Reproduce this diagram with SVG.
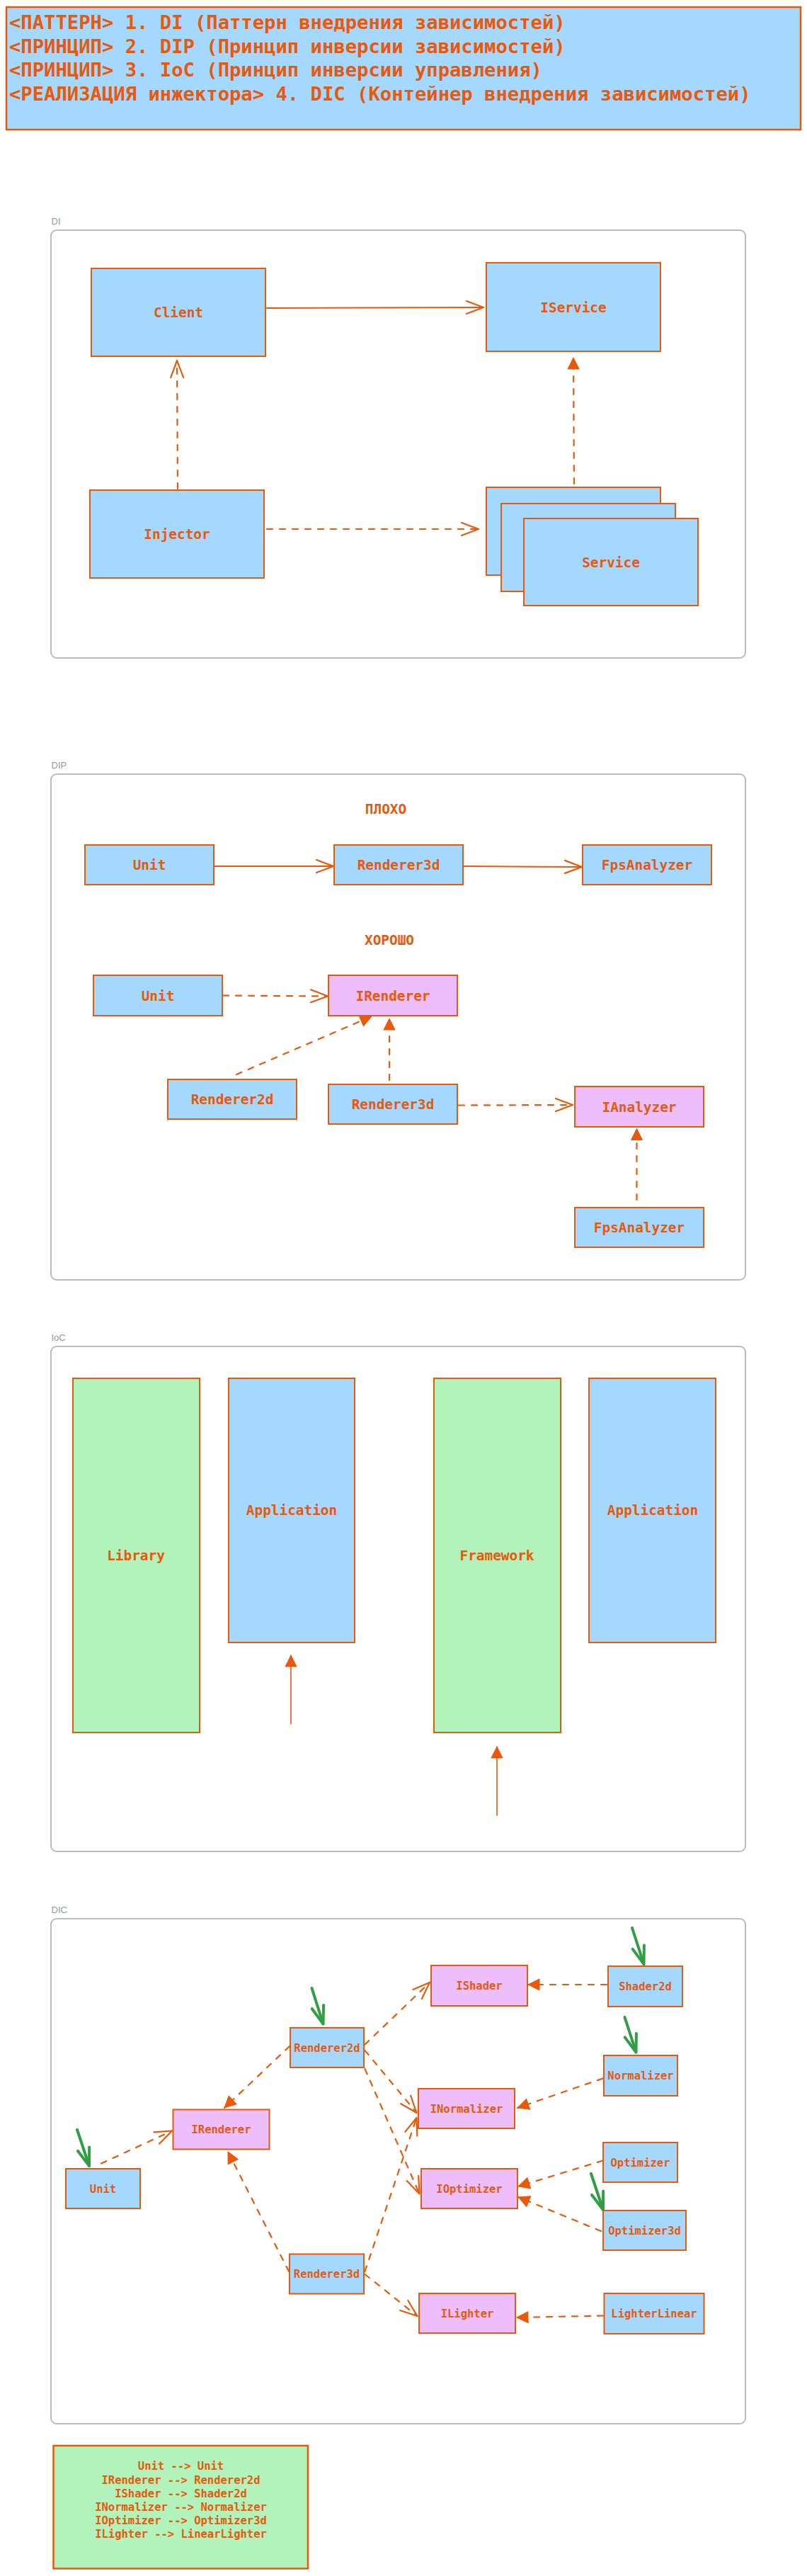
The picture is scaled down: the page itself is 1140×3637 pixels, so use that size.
<svg xmlns="http://www.w3.org/2000/svg" width="1140" height="3637" viewBox="0 0 1140 3637">
<style>
.bg{fill:#ffffff}
.blue{fill:#a5d8ff;stroke:#e8590c;stroke-width:2}
.pink{fill:#eebefa;stroke:#e8590c;stroke-width:2}
.green{fill:#b2f2bb;stroke:#e8590c;stroke-width:2}
.frame{fill:none;stroke:#bbbbbb;stroke-width:2}
.flabel{font-family:"Liberation Sans",Arial,sans-serif;font-size:13px;fill:#999999}
.t{font-family:"DejaVu Sans Mono","Liberation Mono",monospace;fill:#e8590c;text-anchor:middle;font-weight:bold}
.t20{font-size:19.4px}
.t16{font-size:15.5px}
.title{font-family:"DejaVu Sans Mono","Liberation Mono",monospace;fill:#e8590c;font-size:27.2px;font-weight:bold}
.solid{fill:none;stroke:#e8590c;stroke-width:2;stroke-linecap:round}
.thin{fill:none;stroke:#e8590c;stroke-width:1.6;stroke-linecap:round}
.dash{fill:none;stroke:#e8590c;stroke-width:2.2;stroke-dasharray:8 10;stroke-linecap:round}
.garrow{fill:none;stroke:#2f9e44;stroke-width:4;stroke-linecap:round}
</style>
<defs>
<marker id="open" markerUnits="userSpaceOnUse" markerWidth="30" markerHeight="26" refX="24" refY="12" orient="auto" overflow="visible">
<path d="M0,3 L24,12 L0,21" fill="none" stroke="#e8590c" stroke-width="2.2" stroke-linecap="round" stroke-linejoin="round"/>
</marker>
<marker id="tri" markerUnits="userSpaceOnUse" markerWidth="20" markerHeight="20" refX="16" refY="8" orient="auto" overflow="visible">
<path d="M0,0 L16,8 L0,16 Z" fill="#e8590c" stroke="#e8590c" stroke-width="1" stroke-linejoin="round"/>
</marker>
<marker id="gopen" markerUnits="userSpaceOnUse" markerWidth="30" markerHeight="26" refX="25" refY="12" orient="auto" overflow="visible">
<path d="M0,3.5 L25,12 L0,20.5" fill="none" stroke="#2f9e44" stroke-width="4" stroke-linecap="round" stroke-linejoin="round"/>
</marker>
</defs>
<rect class="bg" x="0" y="0" width="1140" height="3637"/>

<g id="title">
<rect x="9" y="10" width="1122" height="173" fill="#a5d8ff" stroke="#e8590c" stroke-width="2.5"/>
<text class="title" x="13" y="41">&lt;ПАТТЕРН&gt; 1. DI (Паттерн внедрения зависимостей)</text>
<text class="title" x="13" y="74.6">&lt;ПРИНЦИП&gt; 2. DIP (Принцип инверсии зависимостей)</text>
<text class="title" x="13" y="108.2">&lt;ПРИНЦИП&gt; 3. IoC (Принцип инверсии управления)</text>
<text class="title" x="13" y="141.8">&lt;РЕАЛИЗАЦИЯ инжектора&gt; 4. DIC (Контейнер внедрения зависимостей)</text>
</g>

<!-- ================= DI ================= -->
<g id="frame-di">
<text class="flabel" x="72.5" y="316.5">DI</text>
<rect class="frame" x="72" y="325" width="981" height="604" rx="8"/>
</g>
<g id="di-client"><rect class="blue" x="129" y="379" width="246" height="124"/><text class="t t20" x="252" y="448">Client</text></g>
<g id="di-iservice"><rect class="blue" x="687" y="371" width="246" height="125"/><text class="t t20" x="810" y="440.5">IService</text></g>
<g id="di-injector"><rect class="blue" x="127" y="692" width="246" height="124"/><text class="t t20" x="250" y="761">Injector</text></g>
<g id="di-service">
<rect class="blue" x="687" y="688" width="246" height="124"/>
<rect class="blue" x="708" y="711" width="246" height="124"/>
<rect class="blue" x="740" y="732" width="246" height="123"/>
<text class="t t20" x="863" y="800.5">Service</text>
</g>

<!-- ================= DIP ================= -->
<g id="frame-dip">
<text class="flabel" x="72.5" y="1084.5">DIP</text>
<rect class="frame" x="72" y="1093" width="981" height="714" rx="8"/>
</g>
<g id="dip-bad-label"><text class="t t20" x="545" y="1148.5">ПЛОХО</text></g>
<g id="dip-good-label"><text class="t t20" x="550" y="1334">ХОРОШО</text></g>
<g id="dip-unit1"><rect class="blue" x="120" y="1193" width="182" height="56"/><text class="t t20" x="211" y="1228">Unit</text></g>
<g id="dip-renderer3d1"><rect class="blue" x="472" y="1193" width="182" height="56"/><text class="t t20" x="563" y="1228">Renderer3d</text></g>
<g id="dip-fps1"><rect class="blue" x="823" y="1193" width="182" height="56"/><text class="t t20" x="914" y="1228">FpsAnalyzer</text></g>
<g id="dip-unit2"><rect class="blue" x="132" y="1377" width="182" height="57"/><text class="t t20" x="223" y="1412.5">Unit</text></g>
<g id="dip-irenderer"><rect class="pink" x="464" y="1377" width="182" height="57"/><text class="t t20" x="555" y="1412.5">IRenderer</text></g>
<g id="dip-renderer2d"><rect class="blue" x="237" y="1524" width="182" height="56"/><text class="t t20" x="328" y="1559">Renderer2d</text></g>
<g id="dip-renderer3d2"><rect class="blue" x="464" y="1531" width="182" height="56"/><text class="t t20" x="555" y="1566">Renderer3d</text></g>
<g id="dip-ianalyzer"><rect class="pink" x="812" y="1534" width="182" height="57"/><text class="t t20" x="903" y="1569.5">IAnalyzer</text></g>
<g id="dip-fps2"><rect class="blue" x="812" y="1705" width="182" height="56"/><text class="t t20" x="903" y="1740">FpsAnalyzer</text></g>

<!-- ================= IoC ================= -->
<g id="frame-ioc">
<text class="flabel" x="72.5" y="1893">IoC</text>
<rect class="frame" x="72" y="1901" width="981" height="713" rx="8"/>
</g>
<g id="ioc-library"><rect class="green" x="103" y="1946" width="179" height="500"/><text class="t t20" x="192" y="2203">Library</text></g>
<g id="ioc-app1"><rect class="blue" x="323" y="1946" width="178" height="373"/><text class="t t20" x="412" y="2139">Application</text></g>
<g id="ioc-framework"><rect class="green" x="613" y="1946" width="179" height="500"/><text class="t t20" x="702" y="2203">Framework</text></g>
<g id="ioc-app2"><rect class="blue" x="832" y="1946" width="179" height="373"/><text class="t t20" x="922" y="2139">Application</text></g>

<!-- ================= DIC ================= -->
<g id="frame-dic">
<text class="flabel" x="72.5" y="2700.5">DIC</text>
<rect class="frame" x="72" y="2709" width="981" height="713" rx="8"/>
</g>
<g id="dic-ishader"><rect class="pink" x="609" y="2775" width="136" height="57"/><text class="t t16" x="677" y="2809">IShader</text></g>
<g id="dic-shader2d"><rect class="blue" x="859" y="2776" width="105" height="57"/><text class="t t16" x="911.5" y="2810">Shader2d</text></g>
<g id="dic-renderer2d"><rect class="blue" x="410" y="2863" width="104" height="56"/><text class="t t16" x="462" y="2896.5">Renderer2d</text></g>
<g id="dic-normalizer"><rect class="blue" x="853" y="2902" width="104" height="57"/><text class="t t16" x="905" y="2936">Normalizer</text></g>
<g id="dic-inormalizer"><rect class="pink" x="591" y="2949" width="136" height="56"/><text class="t t16" x="659" y="2982.5">INormalizer</text></g>
<g id="dic-irenderer"><rect class="pink" x="244.5" y="2978.5" width="136" height="56"/><text class="t t16" x="312.5" y="3012">IRenderer</text></g>
<g id="dic-optimizer"><rect class="blue" x="852" y="3025" width="105" height="56"/><text class="t t16" x="904.5" y="3058.5">Optimizer</text></g>
<g id="dic-unit"><rect class="blue" x="93" y="3062" width="105" height="56"/><text class="t t16" x="145.5" y="3095.5">Unit</text></g>
<g id="dic-ioptimizer"><rect class="pink" x="595" y="3062" width="136" height="56"/><text class="t t16" x="663" y="3095.5">IOptimizer</text></g>
<g id="dic-optimizer3d"><rect class="blue" x="852" y="3121" width="117" height="56"/><text class="t t16" x="910.5" y="3154.5">Optimizer3d</text></g>
<g id="dic-renderer3d"><rect class="blue" x="409" y="3182.5" width="105" height="56"/><text class="t t16" x="461.5" y="3216">Renderer3d</text></g>
<g id="dic-ilighter"><rect class="pink" x="592" y="3238" width="136" height="56"/><text class="t t16" x="660" y="3271.5">ILighter</text></g>
<g id="dic-lighterlinear"><rect class="blue" x="853.5" y="3238" width="141" height="57"/><text class="t t16" x="924" y="3272">LighterLinear</text></g>

<g id="legend">
<rect x="75.5" y="3453" width="359.5" height="173.5" fill="#b2f2bb" stroke="#e8590c" stroke-width="2.5"/>
<text class="t t16" x="255.5" y="3487.3">Unit --&gt; Unit</text>
<text class="t t16" x="255.5" y="3506.5">IRenderer --&gt; Renderer2d</text>
<text class="t t16" x="255.5" y="3525.7">IShader --&gt; Shader2d</text>
<text class="t t16" x="255.5" y="3545">INormalizer --&gt; Normalizer</text>
<text class="t t16" x="255.5" y="3564.3">IOptimizer --&gt; Optimizer3d</text>
<text class="t t16" x="255.5" y="3583.3">ILighter --&gt; LinearLighter</text>
</g>

<g id="connectors">
<!-- DI -->
<path class="solid" d="M377,435 L683,434" marker-end="url(#open)"/>
<path class="dash" d="M251,690 L250,509" marker-end="url(#open)"/>
<path class="dash" d="M377,747 L676,747" marker-end="url(#open)"/>
<path class="dash" d="M811,683 L810,505" marker-end="url(#tri)"/>
<!-- DIP -->
<path class="solid" d="M303,1223 L471,1223" marker-end="url(#open)"/>
<path class="solid" d="M655,1223 L822,1224" marker-end="url(#open)"/>
<path class="dash" d="M315,1405.5 L463,1406.5" marker-end="url(#open)"/>
<path class="dash" d="M334,1517 L525,1435" marker-end="url(#tri)"/>
<path class="dash" d="M550,1525 L550,1438" marker-end="url(#tri)"/>
<path class="dash" d="M648,1560.5 L809,1560" marker-end="url(#open)"/>
<path class="dash" d="M899.5,1694 L899.5,1593.5" marker-end="url(#tri)"/>
<!-- IoC -->
<path class="thin" d="M411,2434 L411,2337" marker-end="url(#tri)"/>
<path class="thin" d="M702,2563 L702,2466" marker-end="url(#tri)"/>
<!-- DIC -->
<path class="dash" d="M143,3054.5 L243,3008.5" marker-end="url(#open)"/>
<path class="dash" d="M409,2889 L317,2976" marker-end="url(#tri)"/>
<path class="dash" d="M408,3207 L322,3038" marker-end="url(#tri)"/>
<path class="dash" d="M515.5,2886.5 L607,2799" marker-end="url(#open)"/>
<path class="dash" d="M515.5,2895 L588.5,2983" marker-end="url(#open)"/>
<path class="dash" d="M515.5,2921 L592.5,3097.5" marker-end="url(#open)"/>
<path class="dash" d="M515.5,3207 L588.5,2990" marker-end="url(#open)"/>
<path class="dash" d="M515.5,3211 L589.5,3270" marker-end="url(#open)"/>
<path class="dash" d="M857,2802 L746,2802" marker-end="url(#tri)"/>
<path class="dash" d="M851.5,2934.5 L731,2976" marker-end="url(#tri)"/>
<path class="dash" d="M851.5,3050.5 L732,3087" marker-end="url(#tri)"/>
<path class="dash" d="M849,3150 L732,3102" marker-end="url(#tri)"/>
<path class="dash" d="M852,3269.5 L730,3272" marker-end="url(#tri)"/>
<!-- green pointers -->
<path class="garrow" d="M440.5,2807 L456.5,2857.5" marker-end="url(#gopen)"/>
<path class="garrow" d="M893,2722 L909.5,2773" marker-end="url(#gopen)"/>
<path class="garrow" d="M882.5,2848 L898.5,2897.5" marker-end="url(#gopen)"/>
<path class="garrow" d="M109,3007 L126,3058" marker-end="url(#gopen)"/>
<path class="garrow" d="M835,3069 L852,3120" marker-end="url(#gopen)"/>
</g>
</svg>
